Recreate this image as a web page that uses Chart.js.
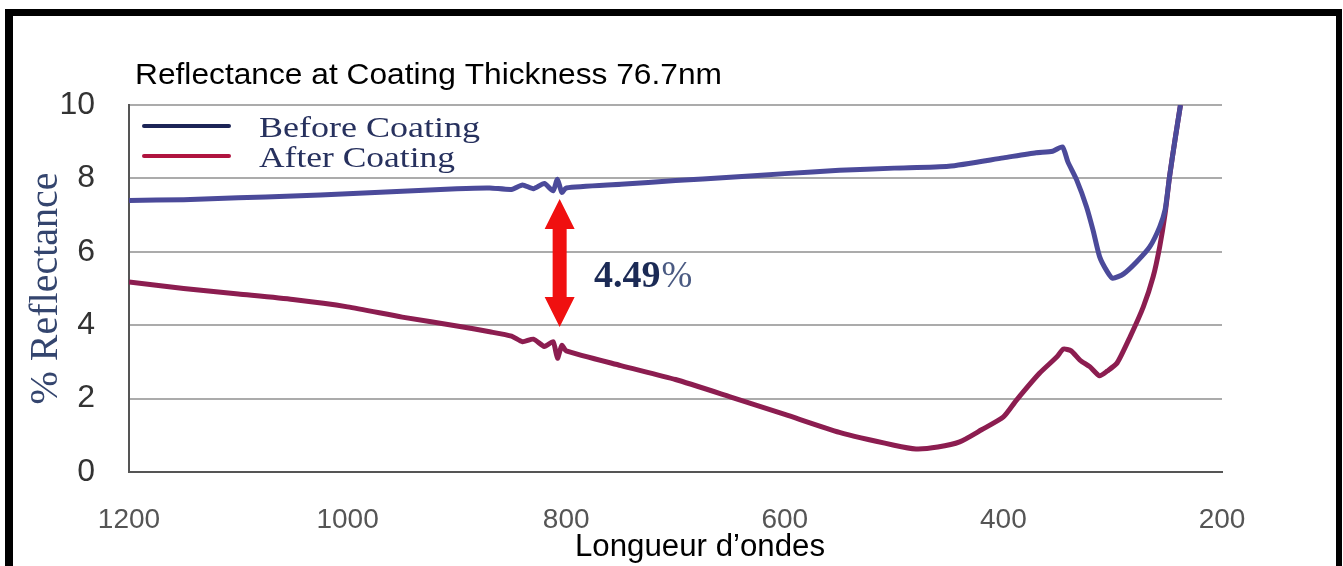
<!DOCTYPE html>
<html>
<head>
<meta charset="utf-8">
<script src="https://cdn.jsdelivr.net/npm/chart.js@4.4.0/dist/chart.umd.min.js"></script>
<style>
  html, body { margin: 0; padding: 0; background: #fff; }
  #wrap { position: relative; width: 1343px; height: 566px; overflow: hidden; }
  #frame {
    position: absolute; left: 5px; top: 9px; width: 1337px; height: 600px;
    box-sizing: border-box; border-left: 8px solid #000; border-top: 7px solid #000;
    border-right: 6px solid #000; pointer-events: none;
  }
  canvas { position: absolute; left: 0; top: 0; }
</style>
</head>
<body>
<div id="wrap">
  <canvas id="reflChart" width="1343" height="566"></canvas>
  <div id="frame"></div>
</div>
<script>
// wavelength (nm) / % reflectance
var beforeWl = [1200, 1150, 1100, 1050, 1000, 950, 900, 870, 850, 840, 830, 820, 812, 808, 804, 800,
  750, 700, 650, 600, 550, 500, 450, 400, 370, 355, 346, 341, 333, 324, 318, 312, 305, 300,
  290, 278, 266, 257, 252, 248, 243, 238];
var beforeVal = [7.40, 7.42, 7.47, 7.52, 7.58, 7.65, 7.72, 7.74, 7.70, 7.82, 7.72, 7.86, 7.66, 7.98, 7.62, 7.74,
  7.84, 7.94, 8.03, 8.13, 8.22, 8.28, 8.33, 8.56, 8.70, 8.74, 8.86, 8.45, 7.96, 7.23, 6.59, 5.87, 5.46, 5.28,
  5.40, 5.73, 6.14, 6.68, 7.15, 8.05, 9.05, 10.0];

var afterWl = [1200, 1150, 1100, 1050, 1000, 950, 900, 870, 850, 840, 830, 820, 812, 808, 804, 800,
  750, 700, 650, 600, 550, 500, 480, 460, 440, 420, 400, 388, 367, 351, 345, 338, 330, 321, 312, 305,
  296, 284, 272, 263, 257, 252, 248, 243, 238];
var afterVal = [5.18, 5.00, 4.85, 4.70, 4.50, 4.22, 3.98, 3.82, 3.70, 3.55, 3.62, 3.42, 3.55, 3.10, 3.45, 3.30,
  2.90, 2.52, 2.05, 1.57, 1.08, 0.73, 0.63, 0.68, 0.82, 1.15, 1.50, 1.96, 2.69, 3.14, 3.35, 3.30, 3.05, 2.87, 2.62, 2.75,
  2.97, 3.69, 4.50, 5.32, 6.14, 7.05, 8.05, 9.05, 10.0];

var xTicks = [1200, 1000, 800, 600, 400, 200];
var yTicks = [0, 2, 4, 6, 8, 10];

// annotation: gap between the curves
var gapWl = 806, gapTop = 7.44, gapBottom = 3.95, gapLabel = "4.49";

function pts(xs, ys) {
  return xs.map(function (x, i) { return { x: x, y: ys[i] }; });
}

function fitText(ctx, text, x, y, font, width, align, color) {
  ctx.save();
  ctx.font = font;
  ctx.fillStyle = color;
  ctx.textBaseline = "alphabetic";
  ctx.textAlign = align || "left";
  var w = ctx.measureText(text).width;
  ctx.translate(x, y);
  ctx.scale(width / w, 1);
  ctx.fillText(text, 0, 0);
  ctx.restore();
}

var extras = {
  id: "extras",
  afterDraw: function (chart) {
    var ctx = chart.ctx;
    var xs = chart.scales.x, ys = chart.scales.y;

    // main title
    fitText(ctx, "Reflectance at Coating Thickness 76.7nm", 135, 84,
      "30px 'Liberation Sans', Arial, sans-serif", 587, "left", "#000");

    // x title
    fitText(ctx, "Longueur d\u2019ondes", 700, 556,
      "31px 'Liberation Sans Narrow', 'Liberation Sans', sans-serif", 250, "center", "#000");

    // legend
    ctx.save();
    ctx.lineWidth = 4;
    ctx.lineCap = "round";
    ctx.strokeStyle = "#1c2456";
    ctx.beginPath(); ctx.moveTo(144, 126); ctx.lineTo(229, 126); ctx.stroke();
    ctx.strokeStyle = "#b0143f";
    ctx.beginPath(); ctx.moveTo(144, 156); ctx.lineTo(229, 156); ctx.stroke();
    ctx.restore();
    fitText(ctx, "Before Coating", 259, 137, "29px 'Liberation Serif', serif", 221, "left", "#27315e");
    fitText(ctx, "After Coating", 259, 167, "29px 'Liberation Serif', serif", 196, "left", "#27315e");

    // red double arrow
    var ax = xs.getPixelForValue(gapWl);
    var yt = ys.getPixelForValue(gapTop), yb = ys.getPixelForValue(gapBottom);
    var hw = 15, sw = 7, hh = 30;
    ctx.save();
    ctx.fillStyle = "#f01010";
    ctx.beginPath();
    ctx.moveTo(ax, yt);
    ctx.lineTo(ax + hw, yt + hh);
    ctx.lineTo(ax + sw, yt + hh);
    ctx.lineTo(ax + sw, yb - hh);
    ctx.lineTo(ax + hw, yb - hh);
    ctx.lineTo(ax, yb);
    ctx.lineTo(ax - hw, yb - hh);
    ctx.lineTo(ax - sw, yb - hh);
    ctx.lineTo(ax - sw, yt + hh);
    ctx.lineTo(ax - hw, yt + hh);
    ctx.closePath();
    ctx.fill();

    ctx.font = "bold 38px 'Liberation Serif', serif";
    ctx.fillStyle = "#1b2a55";
    ctx.textBaseline = "alphabetic";
    ctx.fillText(gapLabel, 594, 287);
    var w = ctx.measureText(gapLabel).width;
    ctx.font = "37px 'Liberation Serif', serif";
    ctx.fillStyle = "#4a5a82";
    ctx.fillText("%", 594 + w + 1, 287);
    ctx.restore();
  }
};

new Chart("reflChart", {
  type: "line",
  data: {
    datasets: [
      {
        label: "Before Coating",
        data: pts(beforeWl, beforeVal),
        borderColor: "#4b4a9a",
        borderWidth: 5,
        pointRadius: 0,
        tension: 0.2,
        fill: false
      },
      {
        label: "After Coating",
        data: pts(afterWl, afterVal),
        borderColor: "#8c1d50",
        borderWidth: 5,
        pointRadius: 0,
        tension: 0.2,
        fill: false
      }
    ]
  },
  options: {
    responsive: false,
    animation: false,
    devicePixelRatio: 1,
    layout: { padding: { left: 0, top: 105, right: 121, bottom: 0 } },
    plugins: {
      legend: { display: false },
      title: { display: false },
      tooltip: { enabled: false }
    },
    scales: {
      x: {
        type: "linear",
        reverse: true,
        min: 200,
        max: 1200,
        afterBuildTicks: function (scale) {
          scale.ticks = xTicks.map(function (v) { return { value: v }; });
        },
        afterFit: function (scale) { scale.height = 94; },
        grid: { drawOnChartArea: false, drawTicks: false },
        border: { display: true, color: "#555", width: 2 },
        ticks: {
          padding: 31,
          color: "#555",
          font: { family: "'Liberation Sans', Arial, sans-serif", size: 28 },
          callback: function (v) { return String(v); }
        }
      },
      y: {
        min: 0,
        max: 10,
        afterBuildTicks: function (scale) {
          scale.ticks = yTicks.map(function (v) { return { value: v }; });
        },
        afterFit: function (scale) { scale.width = 129; },
        grid: { color: "#ababab", lineWidth: 2, drawTicks: false },
        border: { display: true, color: "#555", width: 2 },
        ticks: {
          padding: 34,
          color: "#333",
          font: { family: "'Liberation Sans', Arial, sans-serif", size: 32 }
        },
        title: {
          display: true,
          text: "% Reflectance",
          color: "#34456e",
          font: { family: "'Liberation Serif', serif", size: 40 },
          padding: { top: 22, bottom: 0 }
        }
      }
    }
  },
  plugins: [extras]
});
</script>
</body>
</html>
